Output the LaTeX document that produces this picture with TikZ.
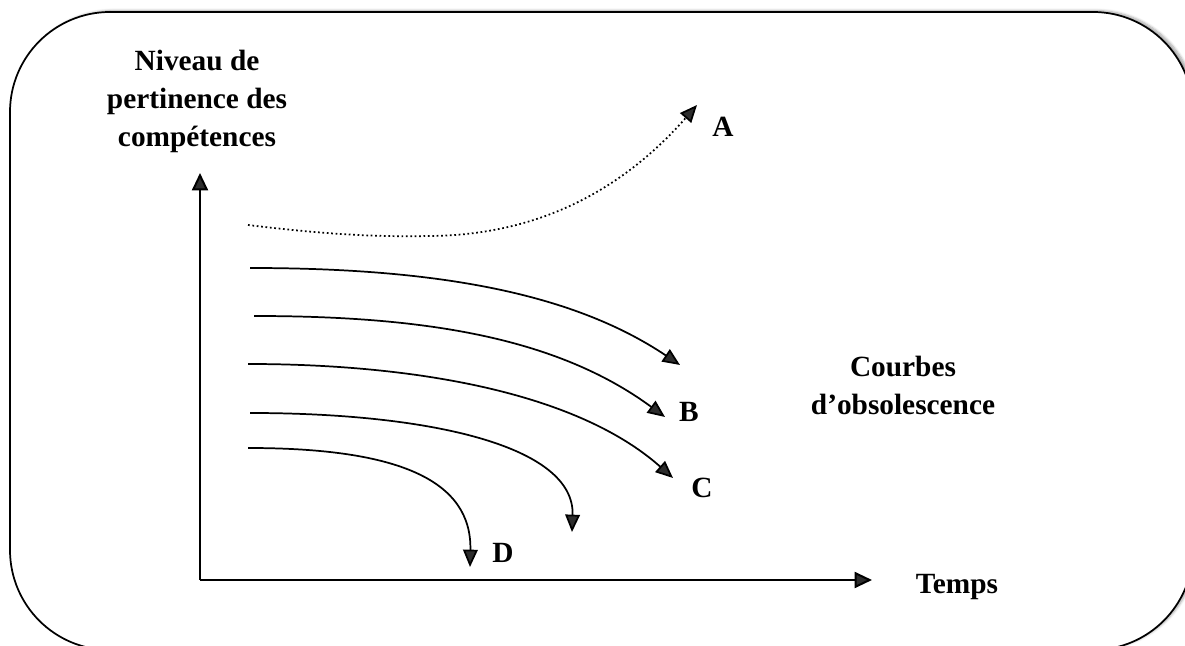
\documentclass[tikz,border=0pt]{standalone}
\usepackage{fontspec}
\setmainfont{Liberation Serif}
\usetikzlibrary{arrows.meta, positioning, shadows.blur}

\begin{document}
\begin{tikzpicture}[
  x=0.75pt, y=0.75pt,
  frame/.style={draw=black, line width=1.3pt, rounded corners=75pt, fill=white, blur shadow={shadow xshift=2.5pt, shadow yshift=1pt, shadow blur steps=6, shadow opacity=35}},
  axis/.style={line width=1.5pt, -{Triangle[length=13pt, width=12pt]}},
  curve/.style={line width=1.3pt, -{Triangle[length=13pt, width=11pt]}},
  lbl/.style={font=\fontsize{22}{28.5}\selectfont\bfseries, align=center, inner sep=0pt}
]
  \useasboundingbox (0,0) rectangle (1185,646);
  \clip (0,0) rectangle (1185,646);
  \draw[frame] (10,-4) rectangle (1193,634);

  \coordinate (O) at (200,66);
  \coordinate (ytip) at (200,473);
  \coordinate (xtip) at (872,66);
  \draw[axis] (O) -- (ytip);
  \draw[axis] (O) -- (xtip);

  \node[lbl] (ylabel) at (197,545) {Niveau de\\pertinence des\\compétences};
  \node[lbl, anchor=base] (xlabel) at (957,52) {Temps};
  \node[lbl] (courbes) at (903,261) {Courbes\\d'obsolescence};

  \node[lbl, anchor=base] (la) at (723,509) {A};
  \node[lbl, anchor=base] (lb) at (689,224) {B};
  \node[lbl, anchor=base] (lc) at (702,148) {C};
  \node[lbl, anchor=base] (ld) at (503,83) {D};

  \coordinate (a0) at (248,421);
  \coordinate (am) at (430,410);
  \coordinate (a1) at (697,541);
  \coordinate (s1) at (250,378);
  \coordinate (e1) at (680,281);
  \coordinate (s2) at (254,330);
  \coordinate (e2) at (665,229);
  \coordinate (s3) at (248,282);
  \coordinate (e3) at (673,168);
  \coordinate (s4) at (250,233);
  \coordinate (e4) at (572,114);
  \coordinate (s5) at (248,198);
  \coordinate (e5) at (470,79);

  \draw[curve, dotted] (a0) .. controls (330,411) and (380,409) .. (am) .. controls (560,411) and (640,476) .. (a1);
  \draw[curve] (s1) .. controls (430,378) and (570,355) .. (e1);
  \draw[curve] (s2) .. controls (420,330) and (555,310) .. (e2);
  \draw[curve] (s3) .. controls (410,282) and (575,255) .. (e3);
  \draw[curve] (s4) .. controls (430,233) and (575,200) .. (e4);
  \draw[curve] (s5) .. controls (400,198) and (472,165) .. (e5);
\end{tikzpicture}
\end{document}
